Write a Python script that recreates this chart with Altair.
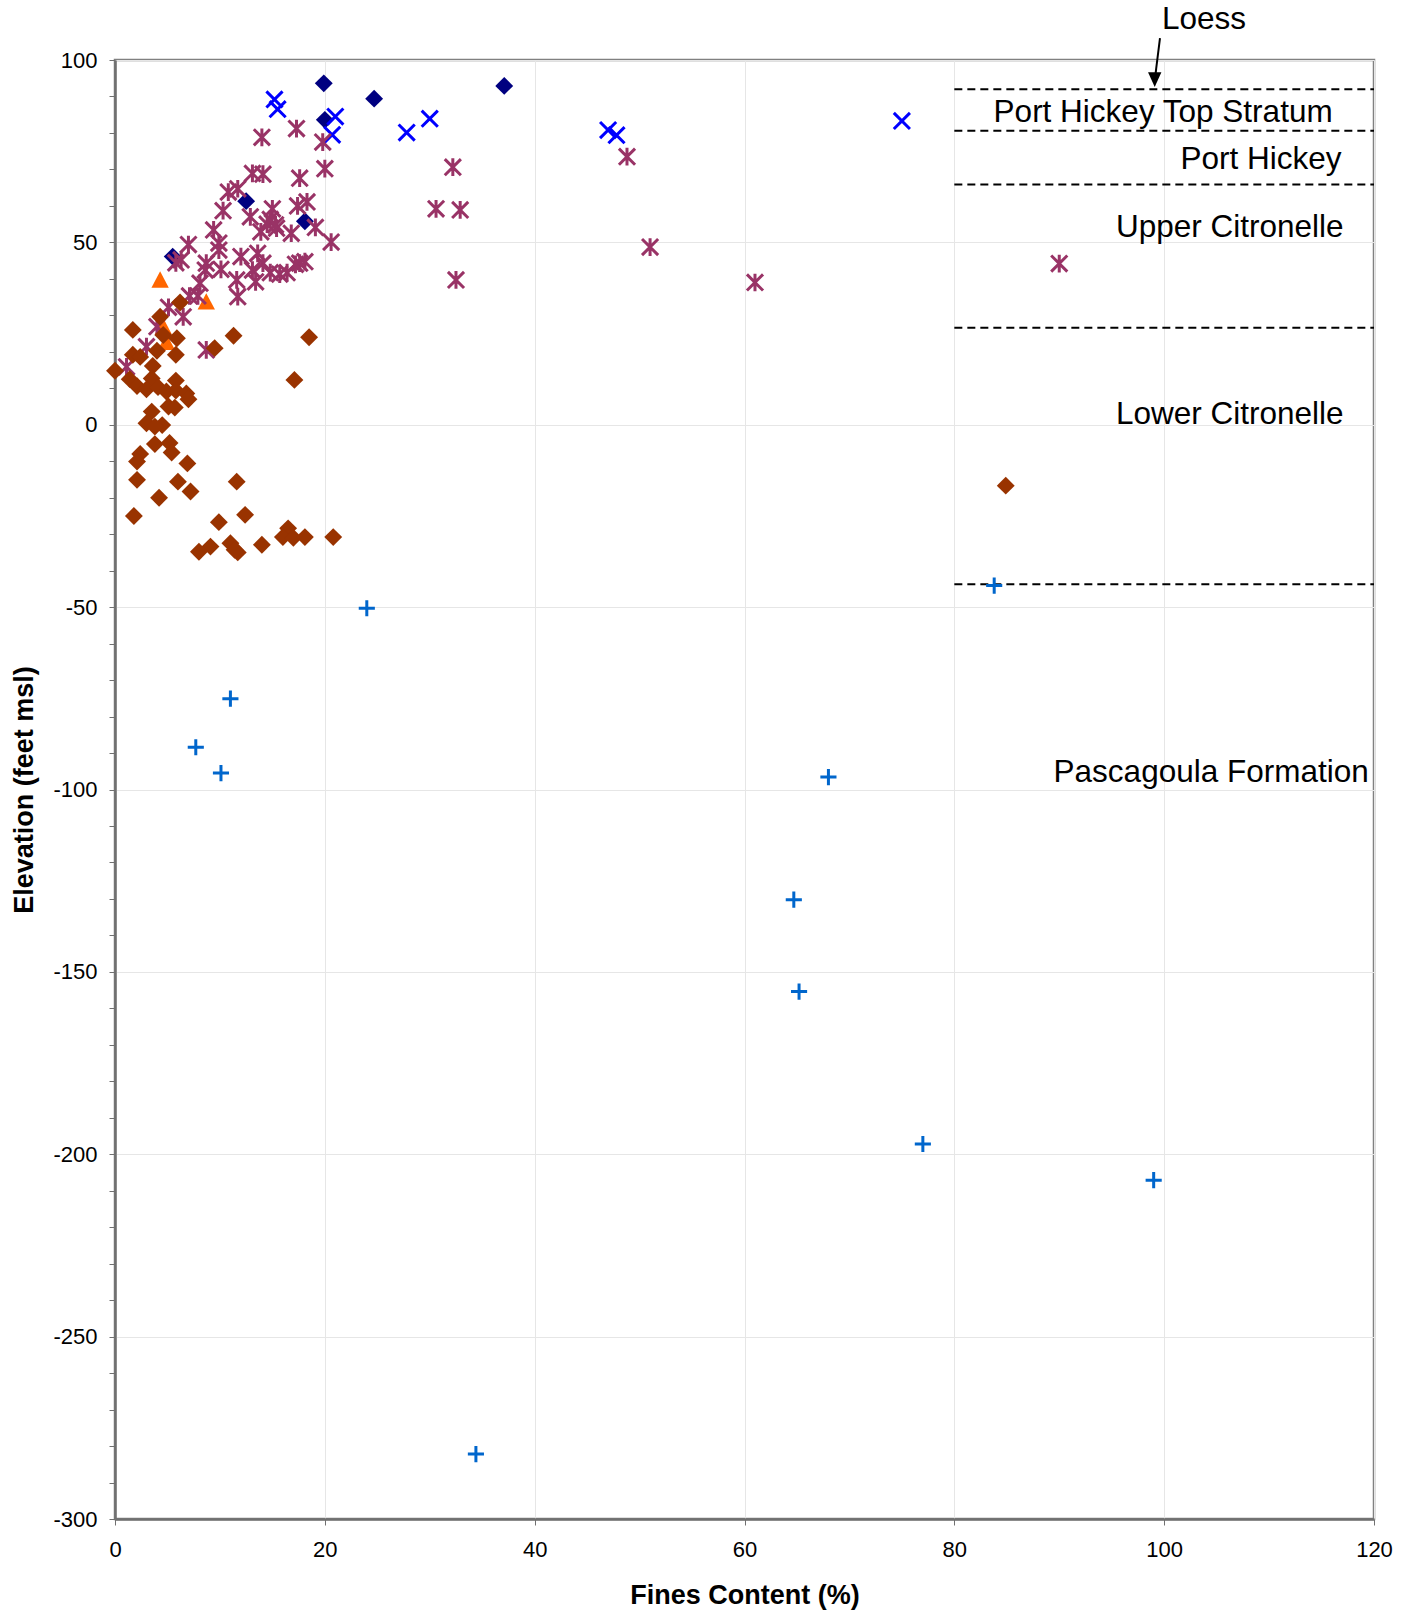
import altair as alt
import pandas as pd

FONT = "Liberation Sans"

# ---- data ----
navy_fines = [19.9, 24.7, 37.1, 20.0, 12.5, 18.1, 5.5]
navy_elev = [93.6, 89.4, 92.9, 83.6, 61.3, 55.8, 46.1]

bluex_fines = [15.2, 15.5, 21.0, 20.7, 27.8, 30.0, 47.0, 47.8, 75.0]
bluex_elev = [89.2, 86.5, 84.5, 79.5, 80.1, 83.9, 80.8, 79.4, 83.3]

orange_fines = [4.3, 8.7, 4.6, 4.9]
orange_elev = [39.7, 33.7, 26.9, 22.6]

purple_fines = [14.0, 17.3, 19.8, 20.0, 17.6, 13.1, 14.1, 32.2, 30.6, 32.9,
                32.5, 10.8, 11.7, 10.3, 12.9, 15.0, 14.8, 15.4, 13.9, 16.8,
                17.4, 18.3, 19.1, 20.6, 9.4, 9.9, 9.9, 7.0, 6.3, 5.8,
                8.7, 8.6, 10.1, 12.0, 13.6, 13.1, 14.1, 14.8, 15.7, 16.4,
                17.6, 18.1, 17.2, 11.6, 13.4, 11.7, 8.1, 7.9, 7.1, 5.1,
                6.5, 4.0, 3.0, 1.1, 8.7, 48.8, 51.0, 61.0, 90.0, 14.5,
                15.3]
purple_elev = [78.8, 81.2, 77.5, 70.2, 67.6, 68.9, 68.7, 70.6, 59.2, 58.9,
               39.7, 63.8, 64.7, 58.7, 57.0, 59.2, 56.3, 53.9, 52.9, 52.5,
               60.0, 61.1, 54.1, 50.1, 53.4, 49.8, 47.9, 49.4, 45.2, 44.4,
               44.3, 42.4, 42.6, 46.1, 47.0, 42.4, 44.3, 41.7, 41.3, 41.7,
               44.3, 44.7, 44.0, 39.7, 39.2, 35.1, 38.8, 35.3, 35.3, 32.2,
               29.6, 26.9, 21.4, 15.9, 20.5, 73.5, 48.7, 39.0, 44.2, 55.0,
               54.8]

brown_fines = [6.2, 4.3, 1.7, 4.6, 5.9, 11.3, 18.5, 9.5, 4.0, 5.8,
               1.7, 2.4, 3.6, 0.0, 1.4, 3.5, 5.8, 17.1, 2.1, 3.0,
               4.1, 4.9, 5.8, 6.8, 7.0, 5.1, 5.7, 3.5, 3.0, 4.5,
               3.8, 3.8, 5.2, 5.4, 2.4, 2.1, 6.9, 2.1, 6.0, 11.6,
               7.2, 4.2, 1.8, 9.9, 12.4, 16.5, 16.0, 17.0, 18.1, 20.8,
               14.0, 9.1, 11.0, 8.0, 11.7, 11.4, 84.9]
brown_elev = [33.5, 29.6, 26.0, 24.6, 23.7, 24.4, 24.0, 21.0, 20.3, 19.2,
              19.2, 18.6, 16.1, 14.8, 12.5, 12.7, 12.1, 12.3, 10.6, 9.7,
              10.3, 9.1, 9.4, 8.6, 7.0, 5.0, 4.7, 3.6, 0.4, -0.1,
              -0.5, -5.3, -5.0, -7.6, -8.0, -10.1, -10.6, -15.1, -15.6, -15.6,
              -18.3, -20.0, -25.0, -26.7, -24.7, -28.4, -30.8, -31.0, -30.8, -30.8,
              -32.9, -33.4, -32.5, -34.8, -35.0, -34.3, -16.7]

plus_fines = [24.0, 83.8, 11.0, 7.7, 10.1, 68.0, 64.7, 65.2, 77.0, 99.0, 34.4]
plus_elev = [-50.3, -44.1, -75.1, -88.4, -95.5, -96.6, -130.2, -155.4, -197.2, -207.1, -282.2]

boundary_elev = [92.0, 80.6, 65.9, 26.6, -43.7]
boundary_start = 80
boundary_end = 120

labels_right = ["Port Hickey", "Upper Citronelle", "Lower Citronelle", "Pascagoula Formation"]
labels_right_x = [116.9, 117.1, 117.1, 119.5]
labels_right_y = [72.6, 53.9, 2.7, -95.5]

labels_center = ["Loess", "Port Hickey Top Stratum"]
labels_center_x = [103.8, 99.9]
labels_center_y = [110.9, 85.5]

arrow_x = [99.6, 99.15]
arrow_y = [106.0, 95.5]
arrow_head_x = [99.1]
arrow_head_y = [94.6]

x_ticks = [0, 20, 40, 60, 80, 100, 120]
y_ticks = list(range(-300, 101, 10))


def frame(xs, ys):
    return pd.DataFrame({"fines": xs, "elev": ys})


X = alt.X(
    "fines:Q",
    scale=alt.Scale(domain=[0, 120], nice=False, zero=False),
    axis=alt.Axis(
        values=x_ticks, title="Fines Content (%)", grid=True, gridColor="#E6E6E6",
        tickSize=6, tickColor="#707070", domainColor="#707070", domainWidth=2.5,
        labelFont=FONT, labelFontSize=22, labelColor="black", labelPadding=14,
        titleFont=FONT, titleFontSize=27, titleFontWeight="bold", titleColor="black",
        titlePadding=22, labelFlush=False,
    ),
)
Y = alt.Y(
    "elev:Q",
    scale=alt.Scale(domain=[-300, 100], nice=False, zero=False),
    axis=alt.Axis(
        values=y_ticks, title="Elevation (feet msl)",
        labelExpr="datum.value % 50 === 0 ? '' + datum.value : ''",
        grid=True, gridColor="#E6E6E6",
        gridOpacity={"condition": {"test": "datum.value % 50 === 0", "value": 1}, "value": 0},
        tickSize=6, tickColor="#707070", domainColor="#707070", domainWidth=2.5,
        labelFont=FONT, labelFontSize=22, labelColor="black", labelPadding=12,
        labelOverlap=False, labelFlush=False,
        titleFont=FONT, titleFontSize=27, titleFontWeight="bold", titleColor="black",
        titlePadding=14,
    ),
)

X_PATH = "M-1,-1L1,1M-1,1L1,-1"
STAR_PATH = "M-1,-1L1,1M-1,1L1,-1M0,-1.1L0,1.1"
PLUS_PATH = "M-1,0L1,0M0,-1L0,1"
TRI_PATH = "M0,-1L1,0.9L-1,0.9Z"

navy = alt.Chart(frame(navy_fines, navy_elev)).mark_point(
    shape="diamond", filled=True, color="#000080", size=320, opacity=1
).encode(x=X, y=Y)

bluex = alt.Chart(frame(bluex_fines, bluex_elev)).mark_point(
    shape=X_PATH, filled=False, color="#0000FF", size=260, strokeWidth=3, opacity=1
).encode(x=X, y=Y)

orange = alt.Chart(frame(orange_fines, orange_elev)).mark_point(
    shape=TRI_PATH, filled=True, color="#FF6600", size=300, opacity=1
).encode(x=X, y=Y)

purple = alt.Chart(frame(purple_fines, purple_elev)).mark_point(
    shape=STAR_PATH, filled=False, color="#993366", size=260, strokeWidth=3, opacity=1
).encode(x=X, y=Y)

brown = alt.Chart(frame(brown_fines, brown_elev)).mark_point(
    shape="diamond", filled=True, color="#993300", size=320, opacity=1
).encode(x=X, y=Y)

plus = alt.Chart(frame(plus_fines, plus_elev)).mark_point(
    shape=PLUS_PATH, filled=False, color="#0066CC", size=260, strokeWidth=3, opacity=1
).encode(x=X, y=Y)

bdf = pd.DataFrame({
    "fines": [boundary_start] * len(boundary_elev),
    "fines_end": [boundary_end] * len(boundary_elev),
    "elev": boundary_elev,
})
bounds = alt.Chart(bdf).mark_rule(
    color="black", strokeWidth=2, strokeDash=[8, 5]
).encode(x=X, x2="fines_end:Q", y=Y)

arrow_line = alt.Chart(
    pd.DataFrame({"fines": [arrow_x[0]], "fines_end": [arrow_x[1]],
                  "elev": [arrow_y[0]], "elev_end": [arrow_y[1]]})
).mark_rule(color="black", strokeWidth=2).encode(
    x=X, x2="fines_end:Q", y=Y, y2="elev_end:Q"
)
arrow_head = alt.Chart(frame(arrow_head_x, arrow_head_y)).mark_point(
    shape="M0,1L0.9,-1L-0.9,-1Z", filled=True, color="black", size=220, opacity=1
).encode(x=X, y=Y)

txt_r = alt.Chart(
    pd.DataFrame({"fines": labels_right_x, "elev": labels_right_y, "label": labels_right})
).mark_text(
    align="right", baseline="middle", font=FONT, fontSize=31.5, color="black"
).encode(x=X, y=Y, text="label:N")

txt_c = alt.Chart(
    pd.DataFrame({"fines": labels_center_x, "elev": labels_center_y, "label": labels_center})
).mark_text(
    align="center", baseline="middle", font=FONT, fontSize=31.5, color="black"
).encode(x=X, y=Y, text="label:N")

chart = alt.layer(
    bounds, navy, bluex, orange, purple, brown, plus,
    arrow_line, arrow_head, txt_r, txt_c
).properties(
    width=1259, height=1459,
    autosize=alt.AutoSizeParams(type="none"),
    padding={"left": 115, "top": 60, "right": 40, "bottom": 98},
    background="white",
).configure_view(
    stroke="#808080", strokeWidth=2.5
)

chart.save("out.html", embed_options={"renderer": "svg", "actions": False})
